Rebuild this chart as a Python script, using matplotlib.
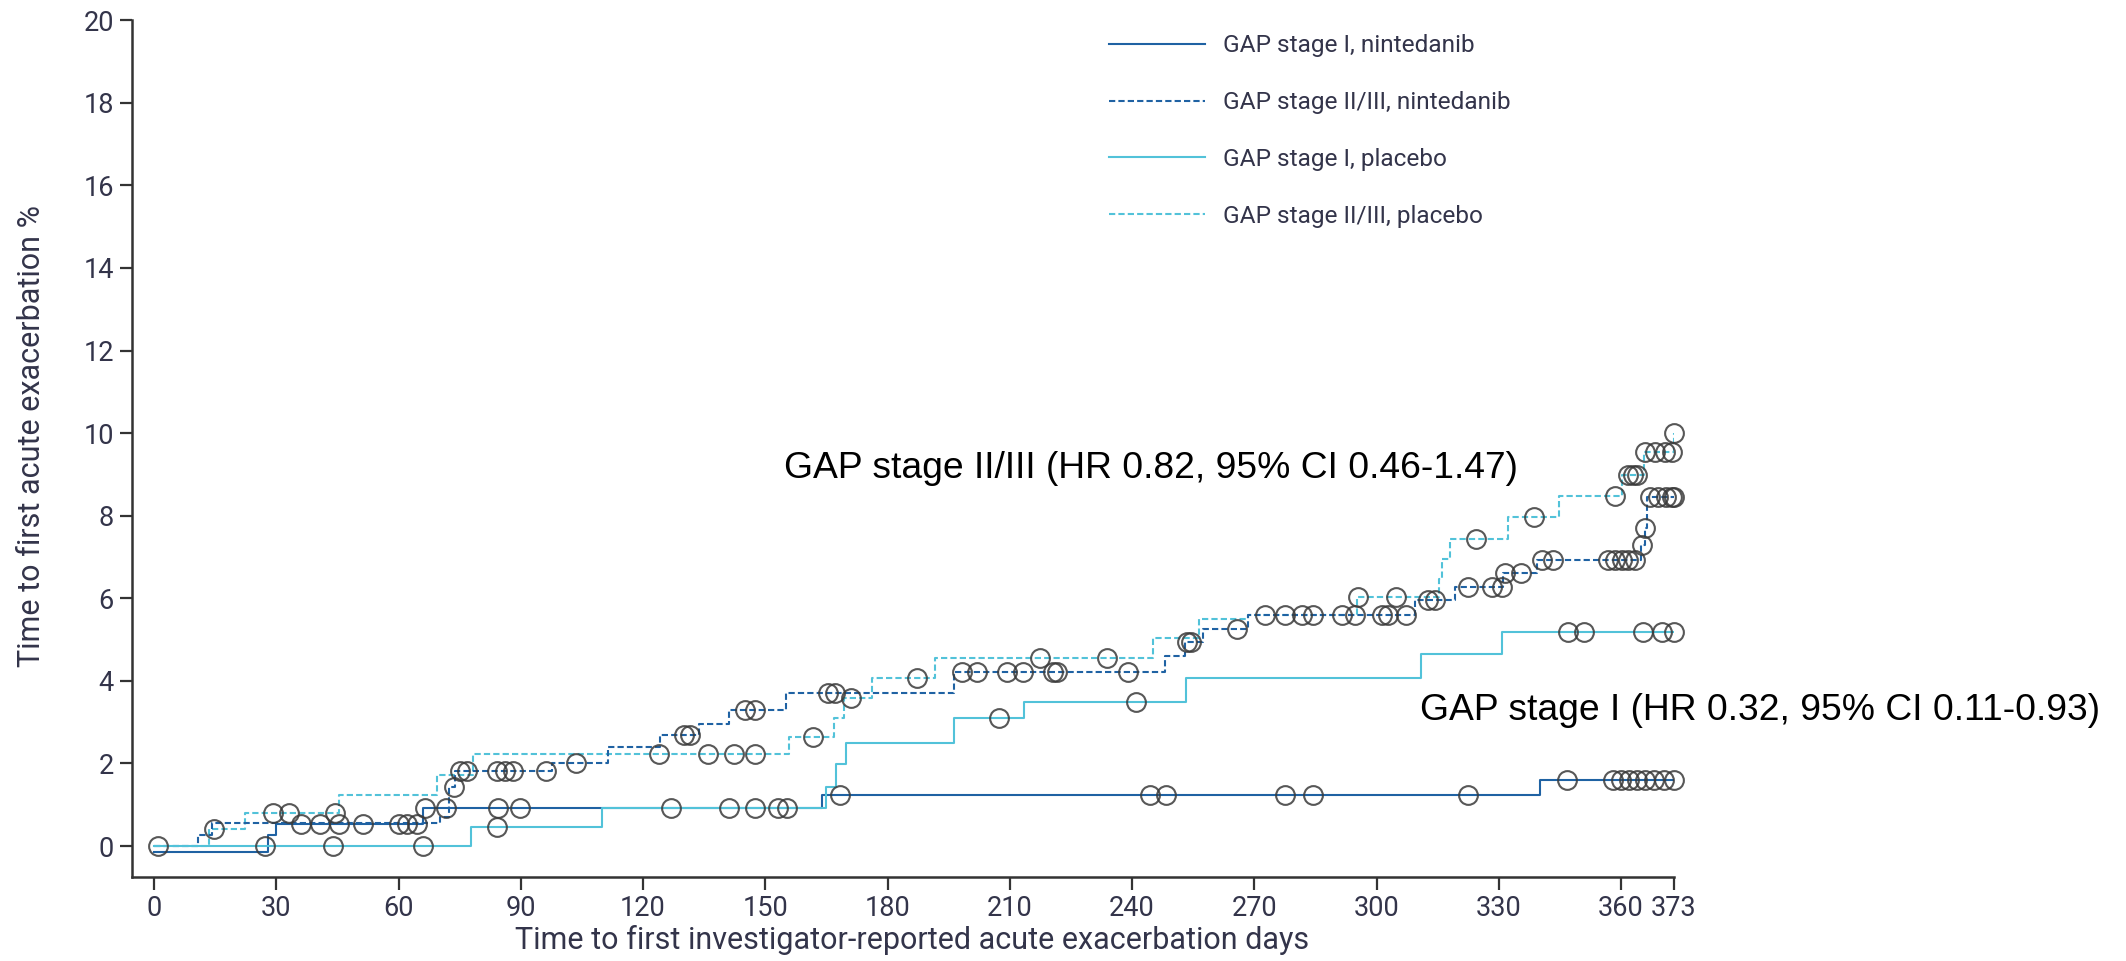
import numpy as np
import matplotlib
matplotlib.use("Agg")
import matplotlib.pyplot as plt
from matplotlib.lines import Line2D

# step curves: event day -> cumulative %
stage1_nin_t = [0, 28, 30, 66, 164, 340]
stage1_nin_y = [-0.14, 0.27, 0.53, 0.91, 1.23, 1.6]
stage1_nin_cens = [36, 40.7, 45.5, 51.2, 60, 62, 64.6, 66.5, 71.7, 84.5, 89.8,
                   168.3, 244.4, 248.3, 277.5, 284.5, 322.5, 346.7,
                   358, 360, 362, 364, 366, 368, 370.5, 373]

stage23_nin_t = [0, 10.9, 14.2, 70.2, 72.5, 73.9, 97.6, 111.5, 124.2, 133.8, 141.2,
                 155.0, 196.2, 248.1, 253, 257.5, 268.5, 309.5, 319.3, 331.1, 339.3,
                 365.0, 365.8, 366.3]
stage23_nin_y = [0, 0.27, 0.55, 0.71, 1.44, 1.82, 2.0, 2.4, 2.7, 2.95, 3.29,
                 3.7, 4.22, 4.6, 4.95, 5.25, 5.59, 5.97, 6.28, 6.62, 6.92,
                 7.3, 7.7, 8.46]
stage23_nin_cens = [73.5, 75.1, 76.7, 84.1, 86.1, 88.2, 96.1, 103.6, 130.1, 131.5,
                    145, 147.5, 165.5, 167.1, 198.2, 202, 209.2, 213.2, 220.7, 221.5,
                    238.9, 253.5, 254.4, 265.7, 272.6, 277.5, 281.6, 284.5, 291.5,
                    294.7, 301.3, 302.9, 307.2, 312.7, 314.4, 322.5, 328.3, 330.7,
                    331.5, 335.4, 340.5, 343.4, 356.9, 358.5, 360.2, 361.8, 363.4,
                    365.2, 365.9, 367, 369, 371, 372.5, 373]

stage1_pla_t = [0, 77.8, 109.9, 164.9, 167.4, 169.8, 196.2, 213.5, 253.2, 310.9, 330.9]
stage1_pla_y = [0, 0.47, 0.91, 1.44, 1.98, 2.5, 3.09, 3.49, 4.08, 4.65, 5.19]
stage1_pla_cens = [1, 27.2, 44, 65.9, 84.1, 126.8, 141.2, 147.5, 153, 155.3,
                   207.4, 240.9, 347, 351, 365.5, 370, 373]

stage23_pla_t = [0, 13.5, 22.3, 45.5, 69.4, 78.2, 155.7, 166.9, 169.3, 176.3, 191.7,
                 245.2, 256.5, 268.5, 295.1, 315.3, 316, 318, 332.3, 344.8, 360.2,
                 365.6, 372.9]
stage23_pla_y = [0, 0.41, 0.79, 1.23, 1.72, 2.22, 2.65, 3.09, 3.58, 4.08, 4.56,
                 5.05, 5.49, 5.59, 6.02, 6.46, 6.95, 7.43, 7.97, 8.47, 8.98,
                 9.55, 10.0]
stage23_pla_cens = [14.7, 29.2, 33.1, 44.5, 123.9, 136, 142.3, 147.5, 161.6, 171,
                    187.2, 217.4, 233.9, 295.5, 304.8, 324.4, 338.7, 358.5,
                    361.8, 363, 364, 366, 368.3, 370.8, 372.5, 373]

series_labels = ["GAP stage I, nintedanib", "GAP stage II/III, nintedanib",
                 "GAP stage I, placebo", "GAP stage II/III, placebo"]
x_ticks = [0, 30, 60, 90, 120, 150, 180, 210, 240, 270, 300, 330, 360, 373]
y_ticks = [0, 2, 4, 6, 8, 10, 12, 14, 16, 18, 20]
end_day = 373

dark = "#1f62a3"
light = "#52c2d9"
tick_col = "#33344a"

fig = plt.figure(figsize=(21.26, 9.61), dpi=100)
ax = fig.add_axes([0.0621, 0.0874, 0.7253, 0.8916])

series = [
    (stage23_pla_t, stage23_pla_y, stage23_pla_cens, light, (0, (3, 1.5))),
    (stage23_nin_t, stage23_nin_y, stage23_nin_cens, dark, (0, (3, 1.5))),
    (stage1_nin_t, stage1_nin_y, stage1_nin_cens, dark, "-"),
    (stage1_pla_t, stage1_pla_y, stage1_pla_cens, light, "-"),
]

for t, y, cens, col, ls in series:
    tt = np.append(t, end_day)
    yy = np.append(y, y[-1])
    ax.step(tt, yy, where="post", color=col, lw=1.5, ls=ls, zorder=2)

# censored patients as open circles sitting on their curve
for t, y, cens, col, ls in series:
    idx = np.searchsorted(t, cens, side="right") - 1
    cy = np.asarray(y)[idx]
    ax.plot(cens, cy, "o", ms=13.5, mfc="none", mec="#3a3a3a", mew=1.5,
            alpha=0.85, clip_on=False, zorder=3)

ax.set_xlim(-5.4, 373)
ax.set_ylim(-0.75, 20)
ax.set_xticks(x_ticks)
ax.set_yticks(y_ticks)
for s in ["top", "right"]:
    ax.spines[s].set_visible(False)
for s in ["left", "bottom"]:
    ax.spines[s].set_color("#333333")
    ax.spines[s].set_linewidth(1.8)
ax.tick_params(axis="both", direction="out", length=9, width=1.6,
               color="#333333", labelsize=19.5, labelcolor=tick_col, pad=4)
for lab in ax.get_xticklabels() + ax.get_yticklabels():
    lab.set_family("Roboto")

ax.set_xlabel("Time to first investigator-reported acute exacerbation days",
              fontsize=22, color=tick_col, family="Roboto")
ax.set_ylabel("Time to first acute exacerbation %", fontsize=22, color=tick_col,
              family="Roboto")
ax.xaxis.set_label_coords(0.506, -0.056)
ax.yaxis.set_label_coords(-0.056, 0.515)

handles = [
    Line2D([], [], color=dark, lw=1.5, ls="-"),
    Line2D([], [], color=dark, lw=1.5, ls=(0, (3, 1.5))),
    Line2D([], [], color=light, lw=1.5, ls="-"),
    Line2D([], [], color=light, lw=1.5, ls=(0, (3, 1.5))),
]
leg = fig.legend(handles, series_labels, loc="upper left",
                 bbox_to_anchor=(0.5115, 0.987), frameon=False,
                 prop={"family": "Roboto", "size": 17.6},
                 handlelength=3.9, handletextpad=0.75, labelspacing=1.38)
for txt in leg.get_texts():
    txt.set_color(tick_col)

fig.text(0.3688, 0.512, "GAP stage II/III (HR 0.82, 95% CI 0.46-1.47)",
         fontsize=26.8, family="Liberation Sans", va="center", ha="left")
fig.text(0.668, 0.261, "GAP stage I (HR 0.32, 95% CI 0.11-0.93)",
         fontsize=26.8, family="Liberation Sans", va="center", ha="left")

fig.savefig("out.png", dpi=100, facecolor="white")
